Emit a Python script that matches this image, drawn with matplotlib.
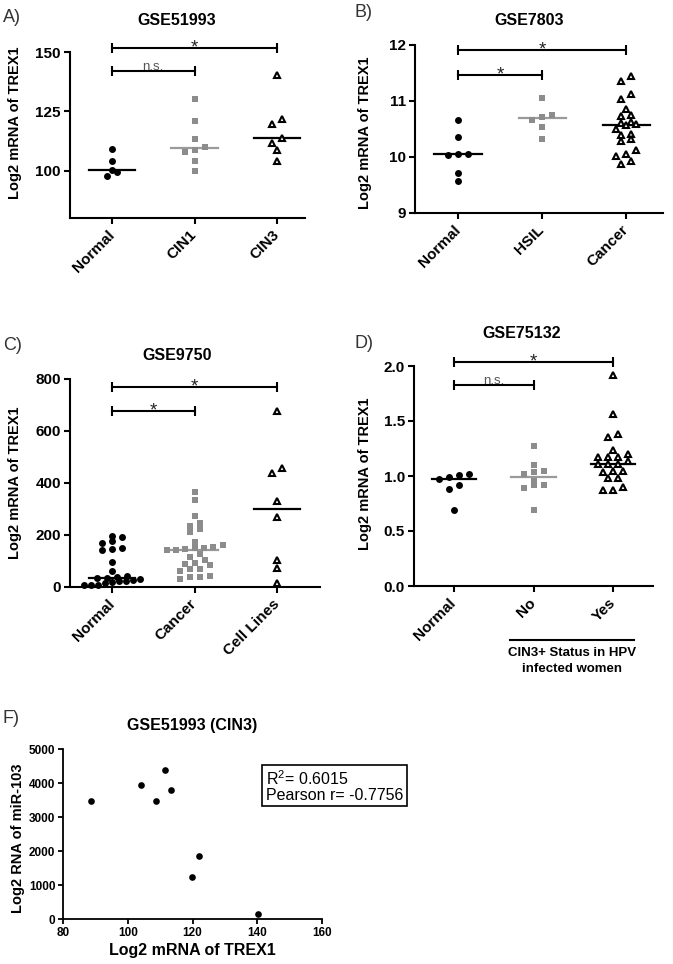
import numpy as np
import matplotlib
matplotlib.use("Agg")
import matplotlib.pyplot as plt

plt.rcParams["font.family"] = ["Liberation Sans", "DejaVu Sans"]
plt.rcParams["mathtext.fontset"] = "custom"
plt.rcParams["mathtext.rm"] = "Liberation Sans"
plt.rcParams["mathtext.it"] = "Liberation Sans:italic"
plt.rcParams["mathtext.bf"] = "Liberation Sans:bold"

W, H = 673, 964

# ---- panel A: GSE51993 ----
a_groups = ["Normal", "CIN1", "CIN3"]
a_normal = [109.0, 104.0, 100.3, 99.2, 97.5]
a_cin1 = [130.0, 121.0, 113.5, 110.0, 108.8, 107.8, 104.2, 100.0]
a_cin3 = [140.1, 121.9, 119.8, 113.8, 111.6, 108.5, 104.0]
a_yticks = [100, 125, 150]

# ---- panel B: GSE7803 ----
b_groups = ["Normal", "HSIL", "Cancer"]
b_normal = [10.66, 10.35, 10.06, 10.05, 10.04, 9.71, 9.57]
b_hsil = [11.06, 10.75, 10.72, 10.66, 10.53, 10.32]
b_cancer = [11.44, 11.36, 11.13, 11.04, 10.85, 10.75, 10.74, 10.62, 10.61, 10.59,
            10.58, 10.50, 10.41, 10.39, 10.32, 10.28, 10.12, 10.06, 10.02, 9.92, 9.88]
b_yticks = [9, 10, 11, 12]

# ---- panel C: GSE9750 ----
c_groups = ["Normal", "Cancer", "Cell Lines"]
c_normal = [195, 192, 176, 169, 150, 146, 141, 95, 60, 41, 38, 35, 35, 31, 28,
            22, 22, 18, 15, 9, 9, 9]
c_cancer = [365, 336, 272, 246, 236, 223, 210, 172, 160, 154, 150, 150, 146, 141,
            141, 128, 115, 103, 92, 90, 83, 69, 69, 63, 41, 37, 37, 31]
c_cells = [676, 458, 438, 329, 269, 105, 73, 15]
c_yticks = [0, 200, 400, 600, 800]

# ---- panel D: GSE75132 ----
d_groups = ["Normal", "No", "Yes"]
d_normal = [1.015, 1.005, 0.995, 0.975, 0.92, 0.88, 0.69]
d_no = [1.27, 1.10, 1.05, 1.04, 1.02, 0.955, 0.92, 0.92, 0.89, 0.695]
d_yes = [1.92, 1.565, 1.385, 1.355, 1.235, 1.20, 1.175, 1.175, 1.17, 1.135, 1.11,
         1.11, 1.11, 1.05, 1.045, 1.035, 0.985, 0.98, 0.90, 0.875, 0.875]
d_yticks = [0.0, 0.5, 1.0, 1.5, 2.0]

# ---- panel F: correlation in CIN3 ----
f_trex1 = [88.5, 104.2, 108.8, 111.6, 113.4, 119.8, 121.9, 140.2]
f_mir103 = [3480, 3940, 3480, 4390, 3790, 1240, 1840, 150]
f_r2 = 0.6015
f_pearson = -0.7756

CIRCLE = dict(marker="o", color="black", ms=5.0, mew=0)
SQUARE = dict(marker="s", color="#8c8c8c", ms=4.5, mew=0)
TRIANGLE = dict(marker="^", mfc="white", mec="black", mew=1.5, ms=5.0)
STYLES = [CIRCLE, SQUARE, TRIANGLE]
MEDIAN_COLORS = ["black", "#9a9a9a", "black"]

fig = plt.figure(figsize=(W / 100, H / 100), dpi=100)


def add_axes_px(left, top, right, bottom):
    return fig.add_axes([left / W, 1 - bottom / H, (right - left) / W, (bottom - top) / H])


def row_offsets(ypx, h=6.0, step=10.0, maxw=56.0):
    # Prism-style column scatter: points closer than h pixels share a row,
    # each row is spread sideways around the column centre
    order = np.argsort(ypx)
    offs = np.zeros(len(ypx))
    rows, cur = [], [order[0]]
    for i in order[1:]:
        if ypx[i] - ypx[cur[0]] < h:
            cur.append(i)
        else:
            rows.append(cur)
            cur = [i]
    rows.append(cur)
    for row in rows:
        n = len(row)
        s = step if (n - 1) * step <= maxw else maxw / (n - 1)
        for k, i in enumerate(row):
            offs[i] = (k - (n - 1) / 2) * s
    return offs


def dot_column(ax, xc, values, style, median_color):
    values = np.asarray(values, dtype=float)
    disp = ax.transData.transform(np.column_stack([np.full(len(values), xc), values]))
    offs_px = row_offsets(disp[:, 1])
    x0, x1 = ax.get_xlim()
    px_per_unit = ax.bbox.width / (x1 - x0)
    xs = xc + offs_px / px_per_unit
    ax.plot(xs, values, ls="none", clip_on=False, zorder=3, **style)
    med = np.median(values)
    ax.plot([xc - 0.28, xc + 0.28], [med, med], color=median_color, lw=1.6, zorder=2)


def sig_bar(ax, x1, x2, y, text):
    ax.plot([x1, x2], [y, y], color="black", lw=1.5, marker="|", ms=6.5, mew=1.5,
            clip_on=False, zorder=4)
    mid = (x1 + x2) / 2
    if text == "*":
        ax.annotate("*", (mid, y), xytext=(0, -3.5), textcoords="offset points",
                    ha="center", va="baseline", fontsize=13.5, color="#222222",
                    annotation_clip=False)
    else:
        ax.annotate(text, (mid, y), xytext=(0, 0.3), textcoords="offset points",
                    ha="center", va="baseline", fontsize=9.5, color="#555555",
                    annotation_clip=False)


def style_axes(ax, labelsize=11, width=1.5, length=4.5):
    for side in ["top", "right"]:
        ax.spines[side].set_visible(False)
    for side in ["left", "bottom"]:
        ax.spines[side].set_linewidth(width)
    ax.tick_params(width=width, length=length, labelsize=labelsize, pad=2)
    for lab in ax.get_xticklabels() + ax.get_yticklabels():
        lab.set_fontweight("bold")


def column_panel(box, groups, data, ylim, yticks, xlim, ylabel, label_xy, bars):
    ax = add_axes_px(*box)
    ax.set_xlim(*xlim)
    ax.set_ylim(*ylim)
    ax.set_yticks(yticks)
    ax.set_xticks(range(len(groups)))
    ax.set_xticklabels(groups, rotation=45, ha="right", va="center",
                       rotation_mode="anchor")
    style_axes(ax)
    ax.tick_params(axis="x", pad=6)
    for i, vals in enumerate(data):
        dot_column(ax, i, vals, STYLES[i], MEDIAN_COLORS[i])
    for x1, x2, y, text in bars:
        sig_bar(ax, x1, x2, y, text)
    ax.set_ylabel(ylabel, fontsize=10.5, fontweight="bold")
    ax.yaxis.set_label_coords(*label_xy)
    return ax


def fig_text(x, y, s, **kw):
    fig.text(x / W, 1 - y / H, s, **kw)


ylab = "Log2 mRNA of TREX1"

# A
ax_a = column_panel((70, 52, 305, 218), a_groups, [a_normal, a_cin1, a_cin3],
                    (80, 150), a_yticks, (-0.51, 2.34), ylab, (-0.204, 0.572),
                    [(0, 2, 151.8, "*"), (0, 1, 142.1, "n.s.")])
ax_a.set_yticklabels([str(t) for t in a_yticks], fontweight="bold")

# B
ax_b = column_panel((415, 45, 663, 213), b_groups, [b_normal, b_hsil, b_cancer],
                    (9, 12), b_yticks, (-0.512, 2.44), ylab, (-0.175, 0.476),
                    [(0, 2, 11.91, "*"), (0, 1, 11.47, "*")])

# C
ax_c = column_panel((70, 379, 320, 587), c_groups, [c_normal, c_cancer, c_cells],
                    (0, 800), c_yticks, (-0.51, 2.52), ylab, (-0.193, 0.5),
                    [(0, 2, 769, "*"), (0, 1, 678, "*")])

# D
ax_d = column_panel((414, 366, 653, 586), d_groups, [d_normal, d_no, d_yes],
                    (0, 2.0), d_yticks, (-0.5, 2.5), ylab, (-0.177, 0.51),
                    [(0, 2, 2.04, "*"), (0, 1, 1.83, "n.s.")])
ax_d.set_yticklabels([f"{t:.1f}" for t in d_yticks], fontweight="bold")
xt = ax_d.get_xaxis_transform()
ax_d.plot([0.708, 2.267], [-0.245, -0.245], transform=xt, color="black", lw=1.5,
          clip_on=False)
ax_d.text(1.487, -0.275, "CIN3+ Status in HPV\ninfected women", transform=xt,
          ha="center", va="top", fontsize=9.5, fontweight="bold", linespacing=1.5)

# F
ax_f = add_axes_px(63, 749, 322, 919)
ax_f.plot(f_trex1, f_mir103, ls="none", marker="o", color="black", ms=4.8, mew=0,
          clip_on=False)
ax_f.set_xlim(80, 160)
ax_f.set_ylim(0, 5000)
ax_f.set_xticks(range(80, 161, 20))
ax_f.set_yticks(range(0, 5001, 1000))
style_axes(ax_f, labelsize=8.5, width=1.3, length=3.5)
ax_f.set_xlabel("Log2 mRNA of TREX1", fontsize=11.5, fontweight="bold")
ax_f.xaxis.set_label_coords(0.5, -0.141)
ax_f.set_ylabel("Log2 RNA of miR-103", fontsize=10.5, fontweight="bold")
ax_f.yaxis.set_label_coords(-0.147, 0.476)
fig_text(266, 769, f"R$^2$= {f_r2:.4f}\nPearson r= {f_pearson:.4f}", ha="left",
         va="top", fontsize=11.5, linespacing=1.0,
         bbox=dict(boxstyle="square,pad=0.22", fc="white", ec="black", lw=1.2))

# titles and panel letters
for x, y, s in [(177, 25, "GSE51993"), (529, 25, "GSE7803"), (177, 360, "GSE9750"),
                (522, 338, "GSE75132"), (192, 730, "GSE51993 (CIN3)")]:
    fig_text(x, y, s, ha="center", va="baseline", fontsize=11.5, fontweight="bold")
for x, y, s in [(3, 22, "A)"), (355, 17, "B)"), (3, 350, "C)"), (355, 348, "D)"),
                (3, 723, "F)")]:
    fig_text(x, y, s, ha="left", va="baseline", fontsize=13, color="#333333")

fig.savefig("out.png", dpi=100, facecolor="white")
